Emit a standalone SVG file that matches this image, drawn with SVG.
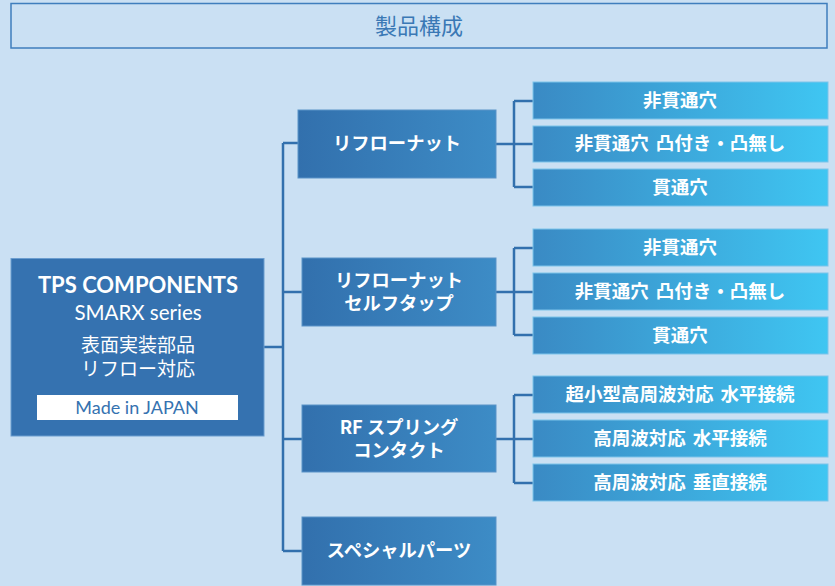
<svg xmlns="http://www.w3.org/2000/svg" width="835" height="586" viewBox="0 0 835 586">
<defs>
<linearGradient id="gMid" x1="0" y1="0" x2="1" y2="0">
<stop offset="0" stop-color="#3270ad"/>
<stop offset="1" stop-color="#3d8cc6"/>
</linearGradient>
<linearGradient id="gLeaf" x1="0" y1="0" x2="1" y2="0">
<stop offset="0" stop-color="#3a8ac4"/>
<stop offset="1" stop-color="#3fc6f2"/>
</linearGradient>
<style>
.mid{fill:url(#gMid);stroke:#5a93c8;stroke-width:1}
.leaf{fill:url(#gLeaf);stroke:#7cc3ea;stroke-width:1}
.t{font-family:"Noto Sans CJK JP","Noto Sans",sans-serif;font-weight:bold;fill:#ffffff;text-anchor:middle}
.mt{font-size:18.3px}
.lt{font-size:18.5px;word-spacing:3px}
.conn{fill:none;stroke:#3270ad;stroke-width:2.5}
</style>
</defs>
<rect x="0" y="0" width="835" height="586" fill="#cae0f3"/>
<g id="title">
<rect x="11" y="3.5" width="816" height="44.5" fill="#cae0f3" stroke="#3f7ebd" stroke-width="1.5"/>
<text x="419" y="34" font-family="Noto Sans CJK JP,sans-serif" font-size="22" fill="#3a78b5" text-anchor="middle">製品構成</text>
</g>
<g id="connectors">
<path class="conn" d="M264 347H283M283 143V551M283 143H298M283 292H302M283 439H302M283 551H302"/>
<path class="conn" d="M496 144H514M514 101V187M514 101H533M514 187H533M514 144H533"/>
<path class="conn" d="M496 292H514M514 248V335M514 248H533M514 335H533M514 292H533"/>
<path class="conn" d="M496 439H514M514 395V483M514 395H533M514 483H533M514 439H533"/>
</g>
<g id="root">
<rect x="11" y="258.5" width="253" height="177.5" fill="#3572b0" stroke="#6b9dcf" stroke-width="1"/>
<text x="138" y="293" font-family="Lato,'Noto Sans',sans-serif" font-weight="bold" font-size="22" fill="#ffffff" text-anchor="middle">TPS COMPONENTS</text>
<text x="138" y="320" font-family="Lato,'Noto Sans',sans-serif" font-size="20.5" fill="#ffffff" text-anchor="middle">SMARX series</text>
<text x="138" y="352" font-family="Noto Sans CJK JP,sans-serif" font-size="19" fill="#ffffff" text-anchor="middle">表面実装部品</text>
<text x="138" y="376" font-family="Noto Sans CJK JP,sans-serif" font-size="19" fill="#ffffff" text-anchor="middle">リフロー対応</text>
<rect x="37" y="395" width="201" height="25" fill="#ffffff"/>
<text x="137" y="414" font-family="Lato,'Noto Sans',sans-serif" font-size="18" fill="#3572b0" text-anchor="middle">Made in JAPAN</text>
</g>
<g id="mid1"><rect class="mid" x="298" y="110" width="198" height="68"/><text class="t mt" x="397" y="150">リフローナット</text></g>
<g id="mid2"><rect class="mid" x="302" y="258" width="194" height="68"/><text class="t mt" x="399" y="287">リフローナット</text><text class="t mt" x="399" y="310">セルフタップ</text></g>
<g id="mid3"><rect class="mid" x="302" y="405" width="194" height="67"/><text class="t mt" x="399" y="434">RF スプリング</text><text class="t mt" x="399" y="457">コンタクト</text></g>
<g id="mid4"><rect class="mid" x="302" y="517" width="194" height="68"/><text class="t mt" x="399" y="557">スペシャルパーツ</text></g>
<g id="leaf1a"><rect class="leaf" x="533" y="82" width="295" height="37"/><text class="t lt" x="680" y="107">非貫通穴</text></g>
<g id="leaf1b"><rect class="leaf" x="533" y="126" width="295" height="36"/><text class="t lt" x="680" y="150">非貫通穴 凸付き・凸無し</text></g>
<g id="leaf1c"><rect class="leaf" x="533" y="169" width="295" height="37"/><text class="t lt" x="680" y="194">貫通穴</text></g>
<g id="leaf2a"><rect class="leaf" x="533" y="229" width="295" height="37"/><text class="t lt" x="680" y="254">非貫通穴</text></g>
<g id="leaf2b"><rect class="leaf" x="533" y="273" width="295" height="37"/><text class="t lt" x="680" y="298">非貫通穴 凸付き・凸無し</text></g>
<g id="leaf2c"><rect class="leaf" x="533" y="317" width="295" height="37"/><text class="t lt" x="680" y="342">貫通穴</text></g>
<g id="leaf3a"><rect class="leaf" x="533" y="376" width="295" height="37"/><text class="t lt" x="680" y="401">超小型高周波対応 水平接続</text></g>
<g id="leaf3b"><rect class="leaf" x="533" y="420" width="295" height="37"/><text class="t lt" x="680" y="445">高周波対応 水平接続</text></g>
<g id="leaf3c"><rect class="leaf" x="533" y="464" width="295" height="37"/><text class="t lt" x="680" y="489">高周波対応 垂直接続</text></g>
</svg>
